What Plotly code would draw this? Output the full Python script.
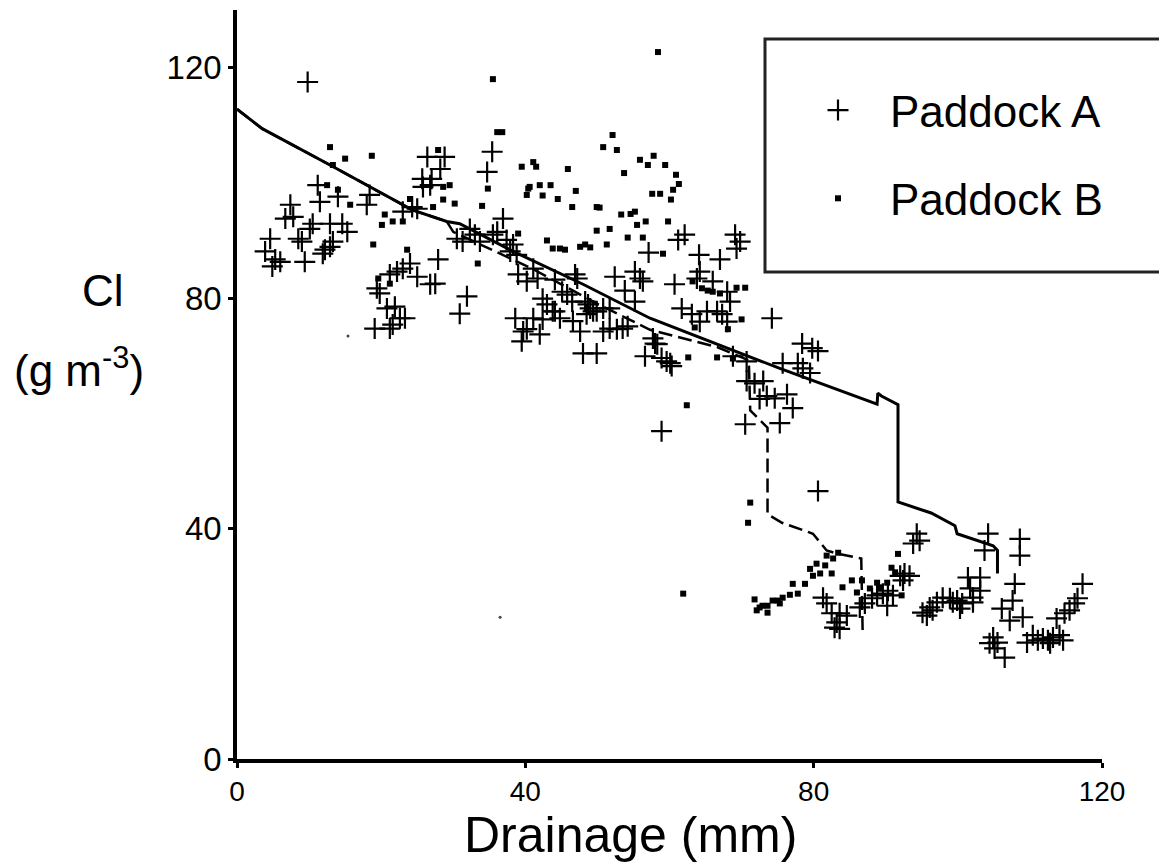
import plotly.graph_objects as go

# ---------------- data ----------------
paddock_a_x = [
    9.8, 26.4, 28.8, 28.2, 35.4, 34.7, 25.7, 27.0, 25.8, 26.8, 11.2, 11.5, 14.0, 18.0, 18.4,
    7.4, 6.7, 7.8, 10.5, 10.1, 12.9, 14.6, 15.3, 4.6, 8.5, 9.0, 13.3, 12.2, 3.9, 5.3, 6.0,
    4.9, 9.4, 23.0, 24.3, 25.0, 30.5, 31.3, 32.3, 33.0, 33.7, 35.5, 36.9, 36.1, 37.4, 38.3,
    38.8, 27.9, 24.0, 23.0, 22.2, 25.0, 19.8, 21.2, 26.8, 27.5, 31.9, 30.9, 20.8, 21.9, 22.6,
    23.3, 21.6, 19.1, 21.2, 38.6, 39.7, 39.0, 40.2, 19.4, 39.5, 12.9, 11.9,
    41.1, 41.7, 44.1, 45.1, 46.9, 42.4, 43.0, 43.8, 42.4, 45.8, 46.5, 48.7, 49.4, 48.5, 41.1,
    44.8, 46.6,
    62.1, 61.2, 69.1, 69.8, 69.3, 57.1, 64.1, 67.0, 52.4, 55.2, 55.9, 56.3, 53.8, 55.2, 60.7,
    64.2, 63.8, 66.0, 68.0, 68.4, 61.7, 63.1, 65.2, 66.6, 67.3, 68.0, 64.2, 74.2, 57.7, 58.3,
    56.6, 58.9, 60.1, 37.9, 47.2, 44.1, 48.3, 49.0, 49.9, 50.8, 51.7, 47.6, 40.2, 42.0,
    50.8, 51.7, 52.7, 53.5, 54.2, 48.0, 49.9,
    78.4, 79.8, 80.6, 75.7, 77.8, 78.5, 79.5, 70.7, 71.8, 73.0, 73.5, 74.6, 76.3, 77.1, 72.5,
    70.5, 75.3, 58.9, 80.6, 94.3, 93.8, 58.0, 59.6, 68.8, 70.7, 60.3,
    94.7, 104.2, 103.7, 108.6, 108.6, 81.3, 81.8, 82.5, 83.6, 84.6, 83.2, 82.9, 83.6,
    86.4, 87.1, 88.1, 88.8, 89.6, 90.3, 91.0, 90.2, 92.0, 92.6, 93.3, 92.4,
    95.1, 96.1, 97.1, 97.9, 98.9, 99.9, 100.6, 99.3, 95.7, 96.5,
    101.4, 103.1, 101.7, 103.1, 102.1, 102.1, 100.3, 107.9, 107.6, 106.1, 107.2, 109.0,
    104.9, 105.5, 104.4, 105.1, 106.5, 109.6, 110.4, 111.1, 111.8, 112.5, 113.2, 114.1, 114.6,
    113.7, 114.8, 115.5, 116.2, 116.6, 117.3, 112.8,
]
paddock_a_y = [
    117.5, 104.5, 104.5, 102.4, 105.4, 101.9, 100.7, 100.7, 99.3, 99.6, 99.6, 96.7, 97.6, 96.2, 97.9,
    96.2, 93.8, 94.1, 92.9, 92.0, 92.9, 92.9, 91.5, 90.3, 90.3, 89.8, 89.8, 88.4, 88.1, 86.7, 86.3,
    85.5, 86.3, 95.0, 95.8, 95.5, 90.3, 89.8, 92.0, 91.0, 89.8, 91.0, 93.8, 91.5, 90.1, 89.3,
    87.5, 86.7, 86.0, 85.1, 84.6, 83.7, 80.8, 84.1, 82.4, 82.5, 80.3, 77.3, 78.2, 78.5, 76.5,
    76.5, 75.4, 74.7, 74.7, 76.5, 74.2, 84.1, 82.9, 81.7, 72.5, 88.9, 87.7,
    85.1, 83.4, 83.2, 81.1, 84.1, 79.9, 78.9, 77.7, 76.3, 80.6, 79.4, 78.9, 77.7, 77.2, 76.5,
    76.5, 76.0,
    91.0, 90.1, 91.0, 89.8, 88.6, 87.9, 87.5, 86.7, 83.7, 84.6, 83.4, 82.9, 81.3, 79.4, 82.4,
    84.6, 83.4, 82.9, 81.1, 79.4, 78.2, 77.2, 77.7, 77.7, 77.2, 75.9, 75.9, 76.5, 73.0, 72.0,
    69.9, 69.6, 68.7, 88.1, 83.4, 77.7, 79.4, 78.2, 77.7, 78.2, 78.2, 74.2, 74.6, 73.7,
    74.2, 74.7, 74.6, 74.7, 75.1, 70.4, 70.4,
    72.1, 71.3, 70.8, 68.7, 68.7, 67.8, 67.0, 65.6, 65.2, 65.6, 63.0, 62.6, 63.3, 60.9, 62.5,
    58.1, 58.3, 56.9, 46.5, 39.1, 37.4, 72.1, 69.0, 69.9, 69.0, 68.2,
    37.9, 39.1, 36.2, 38.2, 35.3, 28.0, 27.0, 25.3, 25.3, 24.9, 23.7, 22.8, 22.6,
    26.3, 27.0, 27.9, 28.4, 28.7, 29.2, 28.4, 26.6, 31.8, 32.2, 31.8, 31.0,
    25.4, 26.3, 27.2, 28.0, 27.9, 27.5, 27.0, 27.2, 24.9, 25.8,
    31.5, 31.5, 29.6, 29.2, 28.0, 27.2, 26.1, 30.4, 27.5, 26.1, 24.0, 24.6,
    21.1, 20.2, 20.1, 19.2, 17.6, 20.2, 21.5, 20.6, 20.9, 20.6, 21.1, 21.5, 20.6,
    24.4, 25.3, 25.8, 27.0, 27.9, 30.4, 20.1,
]

paddock_b_x = [
    35.5, 36.1, 36.8, 12.9, 15.0, 18.7, 27.9, 13.3, 12.5, 14.0, 15.7, 28.6, 29.5, 28.6, 30.2,
    27.2, 34.0, 34.8, 39.5, 40.4, 40.2, 20.5, 20.1, 21.6, 23.0, 24.0, 39.0, 18.9, 23.6, 33.4,
    19.6, 21.2, 41.1, 41.5, 45.9, 40.6, 42.0, 43.5, 42.4, 44.5, 47.0, 46.5, 49.9, 49.9, 43.0,
    43.8, 44.8, 45.5, 47.6, 48.3, 49.0, 52.1, 50.8, 52.7, 55.9, 57.8, 57.0, 59.4, 53.7, 60.9,
    61.3, 60.5, 60.2, 57.6, 58.7, 50.3, 53.3, 54.6, 55.2, 55.5, 56.7, 59.8, 51.7, 54.2, 56.3,
    51.3, 59.1, 69.3, 70.5, 70.0, 68.1, 63.5, 62.6, 66.6, 63.2, 64.5, 65.3, 66.0, 67.0, 58.4,
    62.4, 71.2, 70.9, 91.7, 61.9, 81.8, 82.7, 83.4, 80.4, 79.5, 81.6, 80.9, 79.9, 82.5, 78.8,
    77.1, 77.8, 76.7, 75.7, 75.0, 74.3, 73.6, 72.9, 72.5, 72.1, 73.6, 71.8, 75.3, 84.0, 85.3,
    86.0, 86.7, 90.8, 91.3, 88.8, 90.2, 89.2, 92.2, 87.8, 68.8,
]
paddock_b_y = [
    118.0, 108.8, 108.8, 106.2, 104.2, 104.7, 105.7, 103.1, 99.6, 98.8, 96.2, 99.3, 99.6, 97.1, 96.4,
    95.8, 96.0, 99.0, 102.8, 99.0, 97.9, 94.5, 92.7, 93.3, 93.3, 97.2, 91.2, 89.3, 88.4, 86.0,
    83.4, 82.5, 103.6, 102.8, 102.4, 99.3, 99.6, 99.6, 97.8, 97.2, 98.6, 95.8, 95.8, 91.7, 90.0,
    88.6, 88.6, 88.4, 88.9, 89.3, 88.8, 108.3, 106.2, 105.7, 104.0, 104.7, 103.1, 103.1, 101.7, 101.4,
    99.8, 98.8, 97.1, 98.1, 98.1, 95.7, 94.5, 94.6, 95.0, 92.7, 93.3, 93.3, 92.0, 90.5, 90.5,
    89.3, 87.7, 81.8, 81.8, 76.3, 74.6, 74.9, 69.7, 69.7, 82.9, 81.7, 81.3, 81.1, 80.8, 122.7,
    61.4, 44.5, 41.0, 35.6, 28.7, 35.3, 34.8, 35.8, 33.9, 33.0, 33.6, 32.2, 31.8, 32.2, 30.4,
    30.4, 28.7, 28.5, 28.0, 27.5, 27.5, 26.6, 26.6, 26.3, 25.8, 25.4, 27.7, 27.0, 29.8, 31.0,
    28.9, 31.0, 33.2, 32.4, 30.6, 30.6, 29.8, 28.4, 29.6, 69.5,
]

# faint specks on the original print
speck_x = [15.4, 36.5]
speck_y = [73.4, 24.6]

# fitted curves
solid_x = [0, 3.5, 12.9, 24.3, 29.1, 30.9, 38.3, 48.0, 57.3, 75.3, 88.8, 88.9, 89.4, 91.7,
           91.7, 96.3, 99.6, 99.9, 104.9, 105.5, 105.5]
solid_y = [112.8, 109.4, 103.1, 95.3, 93.3, 92.9, 88.1, 82.4, 76.5, 67.8, 61.6, 63.5, 63.0, 61.5,
           44.6, 42.7, 40.5, 39.1, 37.0, 36.2, 32.2]

dashed_x = [0, 3.5, 12.9, 24.3, 29.1, 30.0, 36.5, 41.1, 50.0, 57.3, 66.6, 71.0, 71.2, 73.6,
            73.6, 75.6, 79.9, 81.8, 83.4, 86.6, 86.8]
dashed_y = [112.8, 109.4, 103.1, 95.3, 93.3, 91.5, 87.7, 85.0, 79.0, 74.5, 71.5, 69.2, 60.5, 57.5,
            42.5, 41.0, 39.1, 36.2, 35.6, 34.8, 21.8]

x_ticks = [0, 40, 80, 120]
y_ticks = [0, 40, 80, 120]

# ---------------- layout geometry ----------------
# the page body adds an 8px margin around the figure
OFF = 8
W, H = 1167 - OFF, 865 - OFF
ML, MT = 237 - OFF, 10 - OFF
PW, PH = 865, 749
MR = W - ML - PW
MB = H - MT - PH


def px(xs):
    """screen x pixel -> paper fraction"""
    return (xs - OFF - ML) / PW


def py(ys):
    """screen y pixel -> paper fraction"""
    return (MT + PH - (ys - OFF)) / PH


FONT = "Liberation Sans, Arial, Helvetica, sans-serif"

fig = go.Figure()

fig.add_trace(go.Scatter(
    x=solid_x, y=solid_y, mode="lines", showlegend=False,
    line=dict(color="black", width=3), hoverinfo="skip"))
fig.add_trace(go.Scatter(
    x=dashed_x, y=dashed_y, mode="lines", showlegend=False,
    line=dict(color="black", width=2.5, dash="14px,6px"), hoverinfo="skip"))

fig.add_trace(go.Scatter(
    x=paddock_a_x, y=paddock_a_y, mode="markers", name="Paddock A", legendgroup="a",
    marker=dict(symbol="cross-thin-open", size=15, color="black",
                line=dict(color="black", width=2.2))))
fig.add_trace(go.Scatter(
    x=paddock_b_x, y=paddock_b_y, mode="markers", name="Paddock B", legendgroup="b",
    marker=dict(symbol="square", size=6, color="black", line=dict(width=0))))
fig.add_trace(go.Scatter(
    x=speck_x, y=speck_y, mode="markers", showlegend=False,
    marker=dict(symbol="circle", size=3, color="#444")))

axis_common = dict(
    showline=True, linecolor="black", linewidth=3.5, mirror=False,
    ticks="outside", ticklen=5, tickwidth=2.5, tickcolor="black",
    showgrid=False, zeroline=False,
)

fig.update_layout(
    width=W, height=H,
    margin=dict(l=ML, r=MR, t=MT, b=MB, pad=0, autoexpand=False),
    paper_bgcolor="white", plot_bgcolor="white",
    xaxis=dict(range=[0, 120], tickvals=x_ticks, automargin=False,
               tickfont=dict(family=FONT, size=28, color="black"), **axis_common),
    yaxis=dict(range=[0, 130], tickvals=y_ticks, automargin=False,
               tickfont=dict(family=FONT, size=33, color="black"), **axis_common),
    showlegend=True,
    legend=dict(
        x=px(786), y=py(75), xanchor="left", yanchor="top",
        bgcolor="rgba(0,0,0,0)", borderwidth=0,
        font=dict(family=FONT, size=44, color="black"),
        tracegroupgap=28, itemwidth=94,
    ),
    shapes=[dict(
        type="rect", xref="paper", yref="paper",
        x0=px(765), x1=px(1200), y0=py(272), y1=py(39),
        line=dict(color="#222", width=3), fillcolor="rgba(0,0,0,0)", layer="below")],
    annotations=[
        dict(text="Drainage (mm)", xref="paper", yref="paper", x=px(630), y=py(835),
             xanchor="center", yanchor="middle", showarrow=False,
             font=dict(family=FONT, size=50, color="black")),
        dict(text="Cl", xref="paper", yref="paper", x=px(103), y=py(291),
             xanchor="center", yanchor="middle", showarrow=False,
             font=dict(family=FONT, size=44, color="black")),
        dict(text="(g m<sup>-3</sup>)", xref="paper", yref="paper", x=px(79), y=py(368),
             xanchor="center", yanchor="middle", showarrow=False,
             font=dict(family=FONT, size=44, color="black")),
    ],
)

fig.write_html("out.html")
